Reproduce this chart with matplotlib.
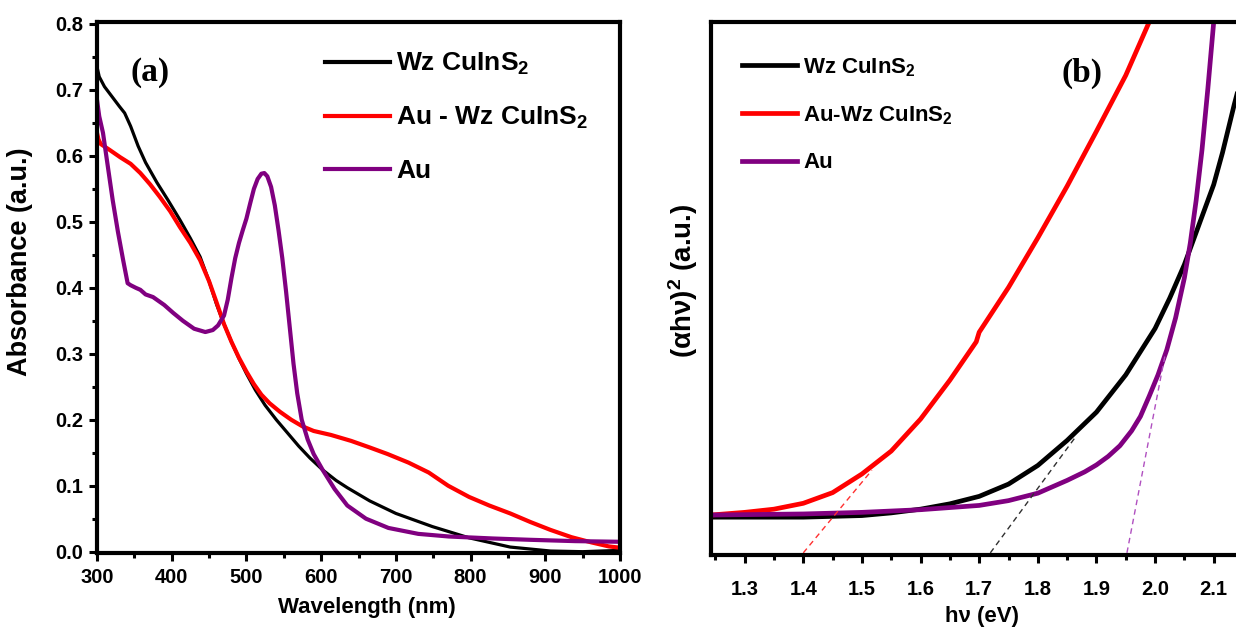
import matplotlib
matplotlib.use("Agg")
import matplotlib.pyplot as plt
from matplotlib.ticker import MultipleLocator, NullLocator, FormatStrFormatter

# ---------------- data: panel (a) ----------------
wl_wz = [300, 303, 310, 320, 330, 337, 345, 355, 365, 380, 395, 411, 425, 438, 450, 460, 470,
         480, 490, 500, 512, 525, 540, 555, 570, 585, 602, 620, 635, 665, 700, 749, 798, 853,
         907, 950, 1000]
abs_wz = [0.735, 0.72, 0.705, 0.69, 0.675, 0.665, 0.645, 0.615, 0.59, 0.56, 0.533, 0.503,
          0.475, 0.447, 0.41, 0.375, 0.345, 0.318, 0.293, 0.27, 0.245, 0.222, 0.2, 0.18, 0.16,
          0.142, 0.124, 0.108, 0.097, 0.077, 0.058, 0.038, 0.021, 0.007, 0.001, 0.0, 0.002]

wl_auwz = [300, 302, 305, 317, 331, 345, 358, 371, 384, 398, 411, 425, 438, 450, 460, 470,
           480, 490, 500, 510, 520, 531, 545, 560, 575, 590, 613, 640, 665, 689, 717, 744,
           770, 798, 825, 853, 880, 907, 935, 962, 985, 1000]
abs_auwz = [0.635, 0.625, 0.618, 0.609, 0.598, 0.588, 0.574, 0.557, 0.538, 0.516, 0.492,
            0.468, 0.442, 0.41, 0.378, 0.345, 0.318, 0.294, 0.273, 0.254, 0.238, 0.225, 0.212,
            0.2, 0.19, 0.183, 0.177, 0.168, 0.158, 0.148, 0.135, 0.12, 0.1, 0.083, 0.07,
            0.058, 0.045, 0.033, 0.022, 0.014, 0.008, 0.006]

wl_au = [300, 303, 308, 315, 321, 328, 335, 341, 345, 352, 358, 365, 375, 390, 402, 415, 430,
         445, 455, 462, 470, 475, 480, 485, 490, 495, 500, 505, 510, 515, 520, 524, 528, 533,
         538, 543, 548, 553, 558, 563, 568, 574, 582, 590, 602, 618, 635, 660, 690, 730, 771,
         830, 880, 940, 1000]
abs_au = [0.685, 0.66, 0.635, 0.58, 0.533, 0.485, 0.442, 0.407, 0.404, 0.4, 0.397, 0.39,
          0.386, 0.374, 0.362, 0.35, 0.338, 0.333, 0.336, 0.343, 0.358, 0.382, 0.415, 0.445,
          0.468, 0.487, 0.505, 0.528, 0.55, 0.565, 0.573, 0.574, 0.569, 0.553, 0.525, 0.487,
          0.445, 0.395, 0.34, 0.285, 0.24, 0.2, 0.17, 0.148, 0.124, 0.095, 0.07, 0.05, 0.036,
          0.027, 0.023, 0.02, 0.018, 0.016, 0.015]

# ---------------- data: panel (b) ----------------
hv_wz = [1.2426, 1.40, 1.50, 1.55, 1.60, 1.65, 1.70, 1.75, 1.80, 1.85, 1.90, 1.95, 2.00,
         2.025, 2.05, 2.06, 2.075, 2.09, 2.10, 2.115, 2.135, 2.165]
tauc_wz = [0.71, 0.71, 0.74, 0.79, 0.86, 0.96, 1.10, 1.33, 1.68, 2.15, 2.68, 3.38, 4.25,
           4.82, 5.45, 5.75, 6.2, 6.65, 6.95, 7.55, 8.45, 9.7]

hv_auwz = [1.2426, 1.30, 1.35, 1.40, 1.45, 1.50, 1.55, 1.60, 1.65, 1.69, 1.695, 1.70, 1.75,
           1.80, 1.85, 1.90, 1.95, 1.99, 2.00]
tauc_auwz = [0.75, 0.80, 0.86, 0.97, 1.17, 1.52, 1.95, 2.55, 3.28, 3.92, 4.00, 4.18, 5.02,
             5.95, 6.92, 7.95, 9.00, 10.0, 10.3]

hv_au = [1.2426, 1.40, 1.50, 1.60, 1.70, 1.75, 1.80, 1.85, 1.88, 1.90, 1.92, 1.94, 1.96,
         1.975, 1.99, 2.005, 2.02, 2.035, 2.05, 2.06, 2.07, 2.08, 2.09, 2.10, 2.105]
tauc_au = [0.75, 0.77, 0.80, 0.85, 0.93, 1.02, 1.16, 1.40, 1.56, 1.69, 1.85, 2.05, 2.33,
           2.60, 2.98, 3.38, 3.85, 4.45, 5.20, 5.85, 6.65, 7.60, 8.75, 10.0, 10.6]

# tangent (band-gap extrapolation) lines: [x_start, x_end], [y_start, y_end]
fit_auwz_x, fit_auwz_y = [1.40, 1.517], [0.04, 1.59]
fit_wz_x, fit_wz_y = [1.719, 1.864], [0.04, 2.21]
fit_au_x, fit_au_y = [1.952, 2.017], [0.04, 3.75]

labels_a = ["Wz CuInS$\\mathregular{_2}$", "Au - Wz CuInS$\\mathregular{_2}$", "Au"]
labels_b = ["Wz CuInS$\\mathregular{_2}$", "Au-Wz CuInS$\\mathregular{_2}$", "Au"]

BLACK, RED, PURPLE = "#000000", "#ff0000", "#800080"

plt.rcParams["font.family"] = ["Liberation Sans", "DejaVu Sans"]
plt.rcParams["font.weight"] = "bold"
plt.rcParams["mathtext.default"] = "regular"

W, H = 1236, 635
fig = plt.figure(figsize=(W / 100, H / 100), dpi=100)

def px_box(x0, x1, ytop, ybot):
    return [x0 / W, (H - ybot) / H, (x1 - x0) / W, (ybot - ytop) / H]

axa = fig.add_axes(px_box(97, 620, 22, 553))
axb = fig.add_axes(px_box(711, 1253, 22, 555))

for ax in (axa, axb):
    for s in ax.spines.values():
        s.set_linewidth(3.0)
    ax.tick_params(which="major", direction="out", length=6, width=2.2, labelsize=14.5)
    ax.tick_params(which="minor", direction="out", length=3.5, width=2.2)

# ---------------- panel (a) ----------------
axa.plot(wl_wz, abs_wz, color=BLACK, lw=2.3, label=labels_a[0], solid_joinstyle="round")
axa.plot(wl_auwz, abs_auwz, color=RED, lw=3.0, label=labels_a[1], solid_joinstyle="round")
axa.plot(wl_au, abs_au, color=PURPLE, lw=3.0, label=labels_a[2], solid_joinstyle="round")
axa.set_xlim(300, 1000)
axa.set_ylim(-0.002, 0.803)
axa.xaxis.set_major_locator(MultipleLocator(100))
axa.xaxis.set_minor_locator(MultipleLocator(50))
axa.yaxis.set_major_locator(MultipleLocator(0.1))
axa.yaxis.set_minor_locator(MultipleLocator(0.05))
axa.yaxis.set_major_formatter(FormatStrFormatter("%.1f"))
axa.tick_params(axis="x", pad=5)
axa.tick_params(axis="y", pad=4)
axa.set_xlabel("Wavelength (nm)", fontsize=16, fontweight="bold")
axa.set_ylabel("Absorbance (a.u.)", fontsize=19.5, fontweight="bold")
axa.xaxis.set_label_coords(0.516, -0.083)
axa.yaxis.set_label_coords(-0.122, 0.548)
fig.text(150 / W, 1 - 73 / H, "(a)", ha="center", va="center", fontsize=24,
         fontweight="bold", family=["Liberation Serif", "DejaVu Serif"])
la = axa.legend(loc="upper left", bbox_to_anchor=(0.436, 0.945), frameon=False,
                borderpad=0, borderaxespad=0, handlelength=2.45, handletextpad=0.25,
                labelspacing=1.05, prop={"size": 19, "weight": "bold"})
for h in la.get_lines():
    h.set_linewidth(3.0)

# ---------------- panel (b) ----------------
axb.plot(hv_wz, tauc_wz, color=BLACK, lw=3.4, label=labels_b[0], solid_joinstyle="round")
axb.plot(hv_auwz, tauc_auwz, color=RED, lw=3.4, label=labels_b[1], solid_joinstyle="round")
axb.plot(hv_au, tauc_au, color=PURPLE, lw=3.4, label=labels_b[2], solid_joinstyle="round")
axb.plot(fit_auwz_x, fit_auwz_y, color="#ff3030", lw=1.0, ls=(0, (4, 3)))
axb.plot(fit_wz_x, fit_wz_y, color="#303030", lw=1.0, ls=(0, (4, 3)))
axb.plot(fit_au_x, fit_au_y, color="#b050c0", lw=1.0, ls=(0, (4, 3)))
axb.set_xlim(1.2426, 2.167)
axb.set_ylim(0, 10)
axb.xaxis.set_major_locator(MultipleLocator(0.1))
axb.xaxis.set_minor_locator(MultipleLocator(0.05))
axb.yaxis.set_major_locator(NullLocator())
axb.yaxis.set_minor_locator(NullLocator())
axb.xaxis.set_major_formatter(FormatStrFormatter("%.1f"))
axb.tick_params(axis="x", pad=12)
axb.set_xlabel("hν (eV)", fontsize=16, fontweight="bold")
axb.xaxis.set_label_coords(0.5, -0.095)
axb.set_ylabel("(αhν)$\\mathregular{^2}$ (a.u.)", fontsize=20, fontweight="bold")
axb.yaxis.set_label_coords(-0.02, 0.515)
fig.text(1082 / W, 1 - 73 / H, "(b)", ha="center", va="center", fontsize=24,
         fontweight="bold", family=["Liberation Serif", "DejaVu Serif"])
lb = axb.legend(loc="upper left", bbox_to_anchor=(0.057, 0.936), frameon=False,
                borderpad=0, borderaxespad=0, handlelength=2.5, handletextpad=0.25,
                labelspacing=1.15, prop={"size": 16, "weight": "bold"})
for h in lb.get_lines():
    h.set_linewidth(3.4)

fig.savefig("out.png", dpi=100)
